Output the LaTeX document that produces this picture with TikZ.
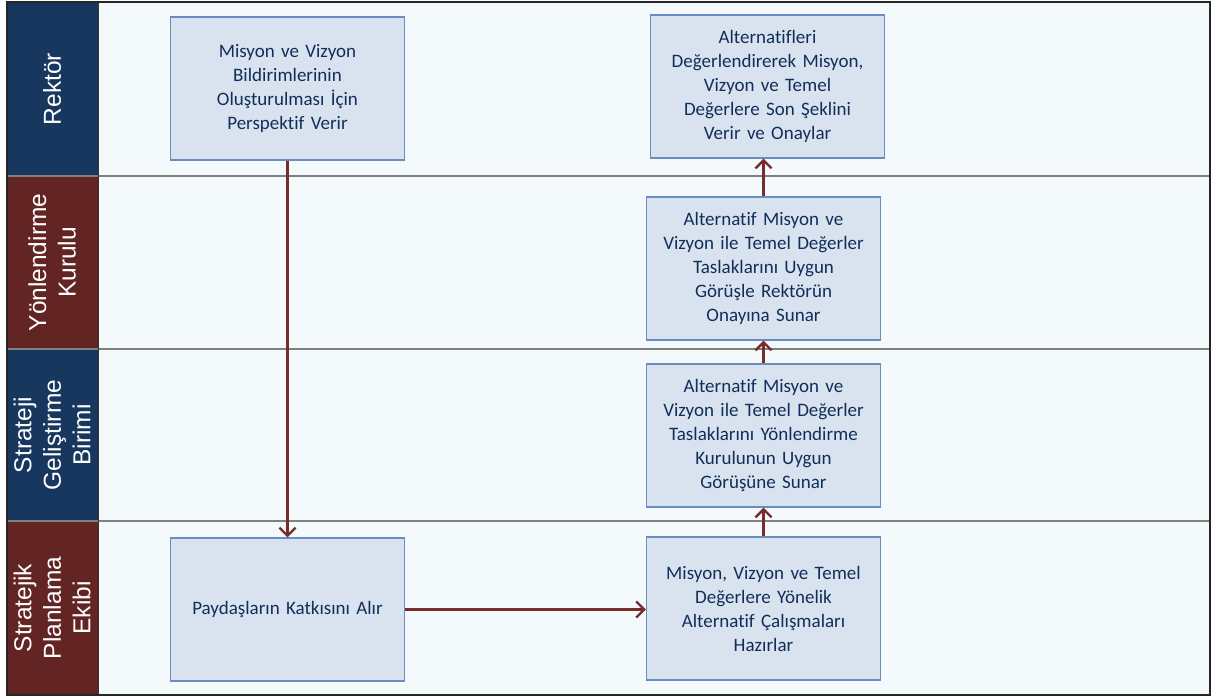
\documentclass[tikz,border=0pt]{standalone}
\usepackage{fontspec}
\setmainfont{Carlito}[Ligatures=NoCommon]
\newfontfamily\lanefont{Liberation Sans}
\usetikzlibrary{arrows.meta}

\definecolor{navy}{HTML}{17375E}
\definecolor{wine}{HTML}{632523}
\definecolor{lanebg}{HTML}{F4F9FB}
\definecolor{boxfill}{HTML}{D9E3EF}
\definecolor{boxline}{HTML}{6A8CC0}
\definecolor{boxtext}{HTML}{112E5A}
\definecolor{flow}{HTML}{772B2B}

\begin{document}
\begin{tikzpicture}[x=1pt, y=-1pt,
	step box/.style={draw=boxline, line width=1.2pt, fill=boxfill, text=boxtext,
		minimum width=234pt, minimum height=143pt, text width=226pt, align=center,
		font=\fontsize{19}{24}\selectfont, inner sep=0pt},
	lane label/.style={rotate=90, text=white, align=center,
		font=\lanefont\fontsize{24.5}{29.5}\selectfont},
	flow arrow/.style={draw=flow, line width=2.4pt, -{Straight Barb[length=8pt, width=16pt, line width=2.4pt]}}]

			\useasboundingbox (0, 0) rectangle (1211, 697);

			% lanes
			\fill[lanebg] (98, 2) rectangle (1210, 695);
			\fill[navy] (7, 2) rectangle (98, 176);
			\fill[wine] (7, 176) rectangle (98, 349);
			\fill[navy] (7, 349) rectangle (98, 521);
			\fill[wine] (7, 521) rectangle (98, 695);
			\draw[gray, line width=1.5pt] (7, 176)--(1210, 176);
			\draw[gray, line width=1.5pt] (7, 349)--(1210, 349);
			\draw[gray, line width=1.5pt] (7, 521)--(1210, 521);
			\draw[black!80, line width=1pt] (98, 2)--(98, 695);
			\draw[black!85, line width=1.5pt] (7, 2) rectangle (1210, 695);

			\node[lane label] (rektor) at (52, 89) {Rektör};
			\node[lane label] (kurul) at (52, 262.5) {Yönlendirme\\Kurulu};
			\node[lane label] (birim) at (52, 435) {Strateji\\Geliştirme\\Birimi};
			\node[lane label] (ekip) at (52, 608) {Stratejik\\Planlama\\Ekibi};

			% steps
			\node[step box] (perspektif) at (287.5, 88.5) {Misyon ve Vizyon\\Bildirimlerinin\\Oluşturulması İçin\\Perspektif Verir};
			\node[step box] (onay) at (767.5, 86.5) {Alternatifleri\\Değerlendirerek Misyon,\\Vizyon ve Temel\\Değerlere Son Şeklini\\Verir ve Onaylar};
			\node[step box] (rektore) at (763.5, 268.5) {Alternatif Misyon ve\\Vizyon ile Temel Değerler\\Taslaklarını Uygun\\Görüşle Rektörün\\Onayına Sunar};
			\node[step box] (kurula) at (763.5, 435.5) {Alternatif Misyon ve\\Vizyon ile Temel Değerler\\Taslaklarını Yönlendirme\\Kurulunun Uygun\\Görüşüne Sunar};
			\node[step box] (katki) at (287.5, 609.5) {Paydaşların Katkısını Alır};
			\node[step box] (hazirla) at (763.5, 608.5) {Misyon, Vizyon ve Temel\\Değerlere Yönelik\\Alternatif Çalışmaları\\Hazırlar};

			\draw[flow arrow] (perspektif.south)--(katki.north);
			\draw[flow arrow] (katki.east)--(katki.east-|hazirla.west);
			\draw[flow arrow] (hazirla.north)--(kurula.south);
			\draw[flow arrow] (kurula.north)--(rektore.south);
			\draw[flow arrow] (rektore.north)--(onay.south-|rektore.north);
		\end{tikzpicture}
\end{document}
